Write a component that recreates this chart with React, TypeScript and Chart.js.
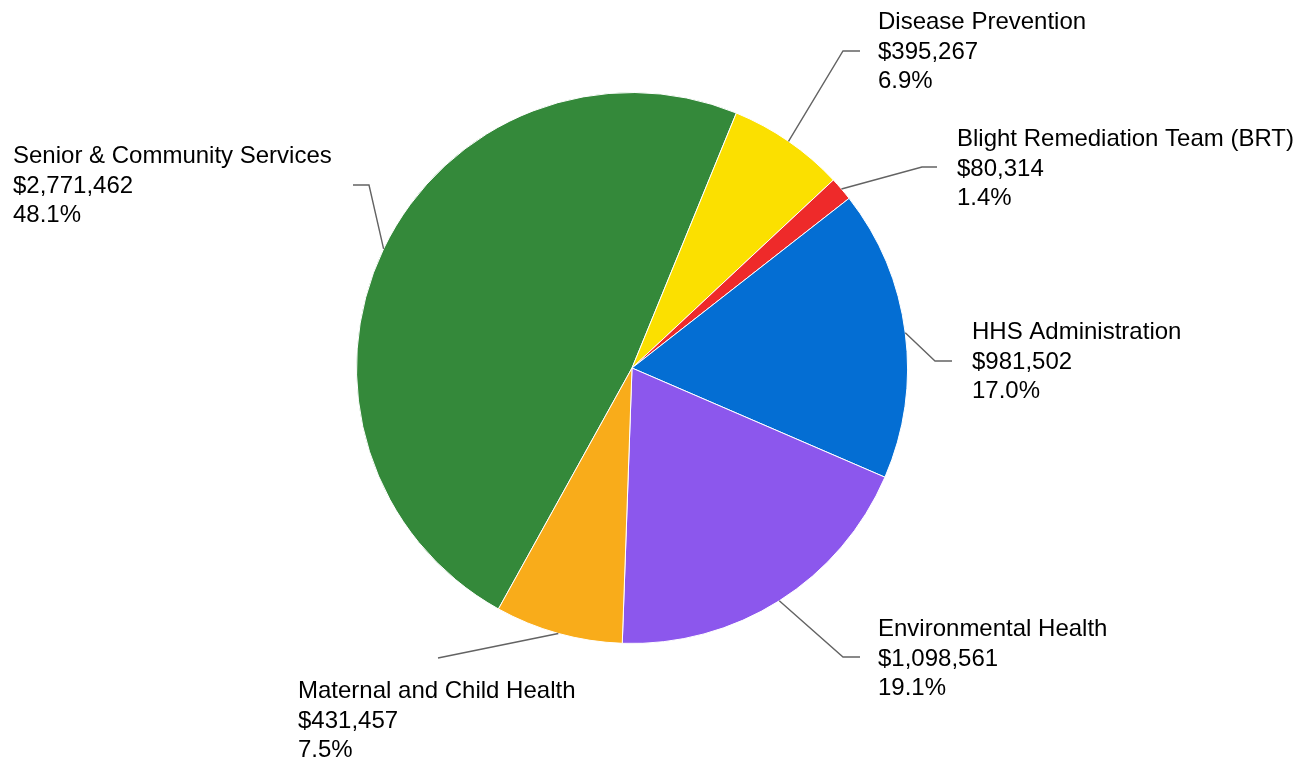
import React, { useEffect, useRef } from "react";
import { Chart, registerables } from "chart.js";

Chart.register(...registerables);

const categories = [
  "Senior & Community Services",
  "Disease Prevention",
  "Blight Remediation Team (BRT)",
  "HHS Administration",
  "Environmental Health",
  "Maternal and Child Health",
];
const values = [2771462, 395267, 80314, 981502, 1098561, 431457];
const percentLabels = ["48.1%", "6.9%", "1.4%", "17.0%", "19.1%", "7.5%"];
const colors = ["#34893a", "#fbe000", "#ee2a2a", "#046ed3", "#8c57ed", "#f9ac1a"];

// label layout: elbow offset relative to pie centre, horizontal tail length, text x offset, text block middle line offset
const labelLayout = [
  { ex: -263, ey: -183, tail: -16, tx: -619, ty: -182, align: "left" },
  { ex: 211, ey: -317, tail: 17, tx: 246, ty: -316, align: "left" },
  { ex: 290, ey: -201, tail: 15, tx: 325, ty: -199, align: "left" },
  { ex: 303, ey: -7, tail: 17, tx: 340, ty: -6, align: "left" },
  { ex: 211, ey: 289, tail: 17, tx: 246, ty: 291, align: "left" },
  { ex: -194, ey: 290, tail: 0, tx: -334, ty: 353, align: "left" },
];

const fmt = (v: number) => "$" + v.toLocaleString("en-US");

const leaderPlugin = {
  id: "leaderLabels",
  afterDraw(chart: any) {
    const meta = chart.getDatasetMeta(0);
    const ctx = chart.ctx;
    ctx.save();
    meta.data.forEach((arc: any, i: number) => {
      const { x, y, outerRadius, startAngle, endAngle } = arc.getProps(
        ["x", "y", "outerRadius", "startAngle", "endAngle"],
        true
      );
      const mid = (startAngle + endAngle) / 2;
      const sx = x + Math.cos(mid) * outerRadius;
      const sy = y + Math.sin(mid) * outerRadius;
      const L = labelLayout[i];
      const exx = x + L.ex;
      const eyy = y + L.ey;
      ctx.strokeStyle = "#636363";
      ctx.lineWidth = 1.4;
      ctx.beginPath();
      ctx.moveTo(sx, sy);
      ctx.lineTo(exx, eyy);
      if (L.tail !== 0) ctx.lineTo(exx + L.tail, eyy);
      ctx.stroke();

      ctx.fillStyle = "#000000";
      ctx.font = '24px "Liberation Sans", Arial, sans-serif';
      ctx.textAlign = "left";
      ctx.textBaseline = "middle";
      const tx = x + L.tx;
      const ty = y + L.ty;
      const lh = 29.2;
      ctx.fillText(categories[i], tx, ty - lh);
      ctx.fillText(fmt(values[i]), tx, ty);
      ctx.fillText(percentLabels[i], tx, ty + lh);
    });
    ctx.restore();
  },
};

export default function App() {
  const ref = useRef<HTMLCanvasElement | null>(null);
  useEffect(() => {
    const prevMargin = document.body.style.margin;
    document.body.style.margin = "0";
    const canvas = ref.current!;
    const chart = new Chart(canvas, {
      type: "pie",
      data: {
        labels: categories,
        datasets: [
          {
            data: values,
            backgroundColor: colors,
            borderColor: "#ffffff",
            borderWidth: 1,
            hoverOffset: 0,
          },
        ],
      },
      options: {
        responsive: false,
        animation: false,
        rotation: -151,
        layout: { padding: { left: 356, right: 402, top: 92, bottom: 115 } },
        plugins: {
          legend: { display: false },
          tooltip: { enabled: false },
        },
      },
      plugins: [leaderPlugin],
    });
    return () => {
      chart.destroy();
      document.body.style.margin = prevMargin;
    };
  }, []);
  return (
    <div style={{ width: 1310, height: 759, background: "#ffffff" }}>
      <canvas ref={ref} width={1310} height={759} style={{ display: "block" }} />
    </div>
  );
}
